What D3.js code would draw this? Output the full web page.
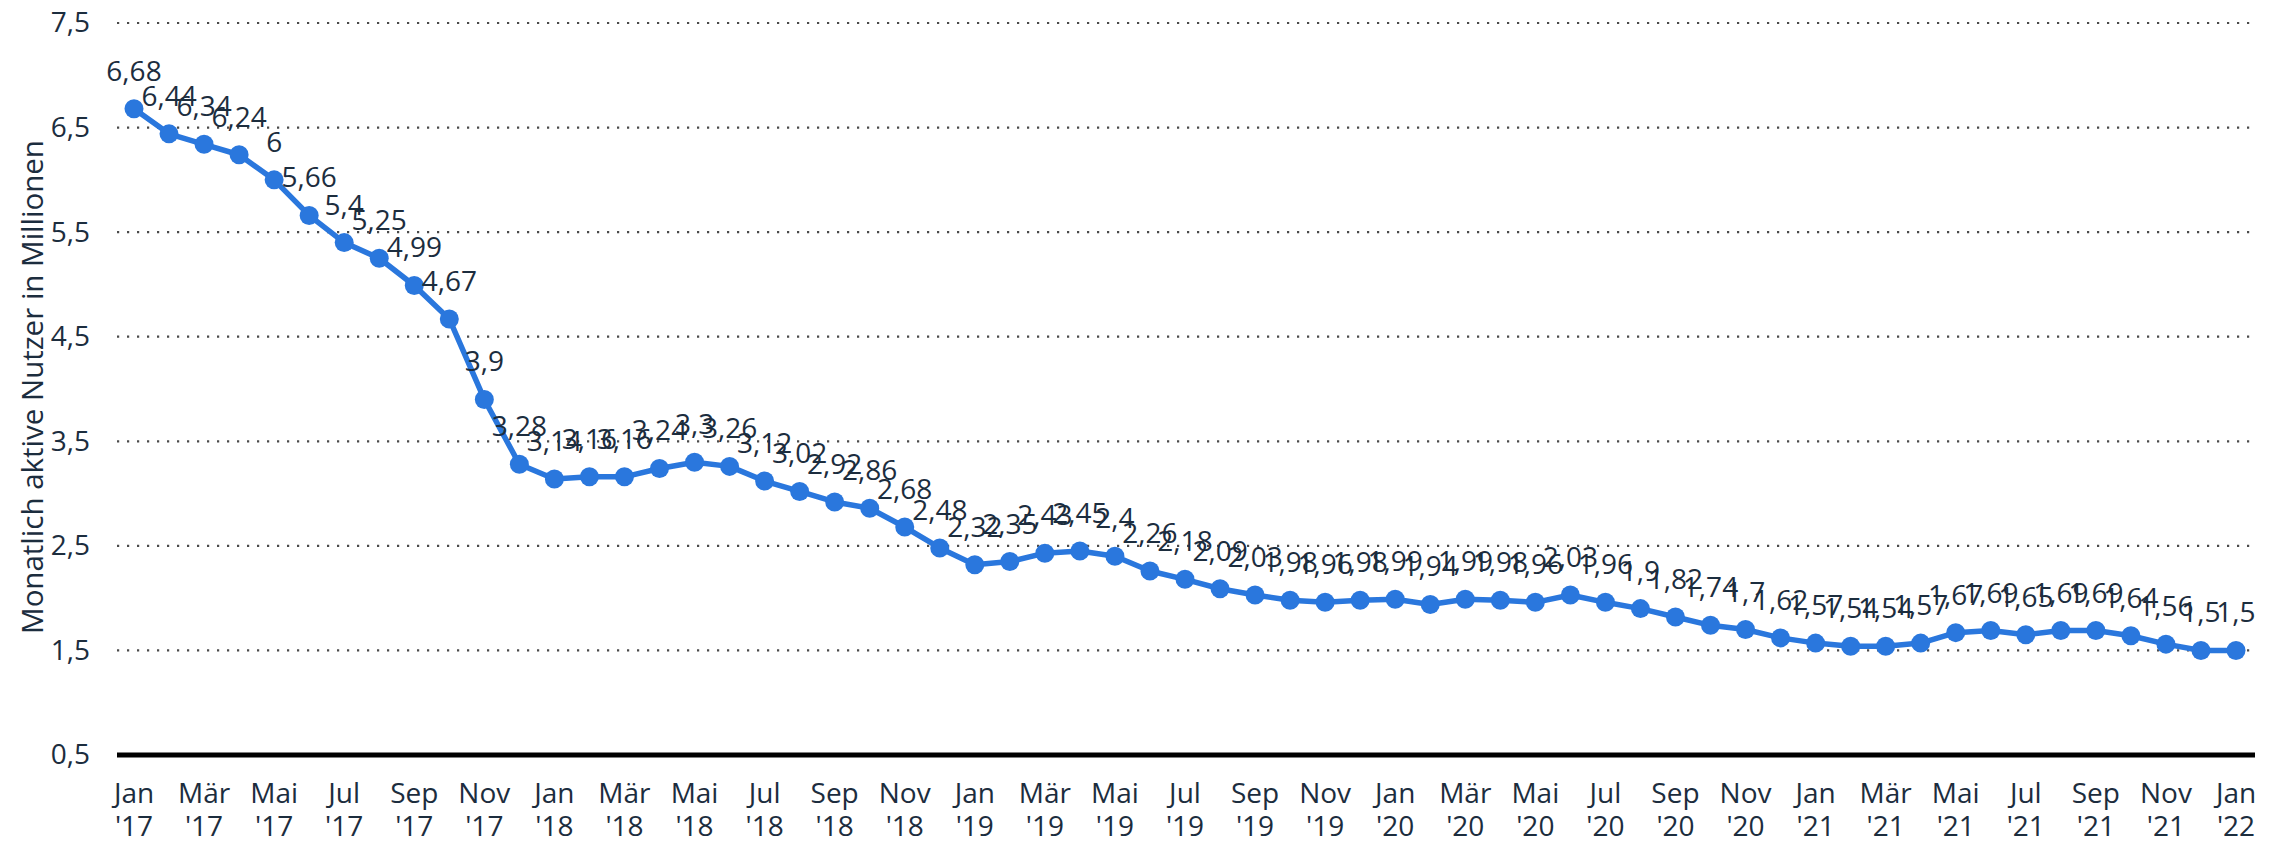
<!DOCTYPE html>
<html>

<head>
    <title>Monatlich aktive Nutzer</title>
    <script src="https://cdnjs.cloudflare.com/ajax/libs/d3/7.8.5/d3.min.js"></script>
    <style>
        body { margin: 0; background: #fff; font-family: "Open Sans", sans-serif; }
    </style>
</head>

<body>
    <div id="chart"></div>

    <script>
        var months = [
            "Jan '17", "Feb '17", "Mär '17", "Apr '17", "Mai '17", "Jun '17", "Jul '17", "Aug '17", "Sep '17", "Okt '17", "Nov '17", "Dez '17",
            "Jan '18", "Feb '18", "Mär '18", "Apr '18", "Mai '18", "Jun '18", "Jul '18", "Aug '18", "Sep '18", "Okt '18", "Nov '18", "Dez '18",
            "Jan '19", "Feb '19", "Mär '19", "Apr '19", "Mai '19", "Jun '19", "Jul '19", "Aug '19", "Sep '19", "Okt '19", "Nov '19", "Dez '19",
            "Jan '20", "Feb '20", "Mär '20", "Apr '20", "Mai '20", "Jun '20", "Jul '20", "Aug '20", "Sep '20", "Okt '20", "Nov '20", "Dez '20",
            "Jan '21", "Feb '21", "Mär '21", "Apr '21", "Mai '21", "Jun '21", "Jul '21", "Aug '21", "Sep '21", "Okt '21", "Nov '21", "Dez '21",
            "Jan '22"
        ];

        var users = [
            6.68, 6.44, 6.34, 6.24, 6, 5.66, 5.4, 5.25, 4.99, 4.67, 3.9, 3.28,
            3.14, 3.16, 3.16, 3.24, 3.3, 3.26, 3.12, 3.02, 2.92, 2.86, 2.68, 2.48,
            2.32, 2.35, 2.43, 2.45, 2.4, 2.26, 2.18, 2.09, 2.03, 1.98, 1.96, 1.98,
            1.99, 1.94, 1.99, 1.98, 1.96, 2.03, 1.96, 1.9, 1.82, 1.74, 1.7, 1.62,
            1.57, 1.54, 1.54, 1.57, 1.67, 1.69, 1.65, 1.69, 1.69, 1.64, 1.56, 1.5,
            1.5
        ];

        var yTicks = [0.5, 1.5, 2.5, 3.5, 4.5, 5.5, 6.5, 7.5];
        var xTickLabels = months.filter(function (m, i) { return i % 2 === 0; });

        var width = 2284;
        var height = 842;
        var textColor = "#1c2d3e";
        var lineColor = "#2a77dd";

        var svg = d3.select("#chart").append("svg")
            .attr("width", width)
            .attr("height", height);

        var xScale = d3.scalePoint().domain(months).range([134, 2236]);
        var yScale = d3.scaleLinear().domain([0.5, 7.5]).range([755, 23]);

        function comma(v) {
            return String(v).replace(".", ",");
        }

        // grid
        svg.append("g")
            .selectAll("line")
            .data(yTicks.filter(function (t) { return t > 0.5; }))
            .enter().append("line")
            .attr("x1", 117)
            .attr("x2", 2255)
            .attr("y1", function (d) { return yScale(d); })
            .attr("y2", function (d) { return yScale(d); })
            .attr("stroke", "#4a4a4a")
            .attr("stroke-width", 2.2)
            .attr("stroke-dasharray", "2.2,7.8");

        // y axis
        var yAxis = svg.append("g")
            .attr("transform", "translate(90,0)")
            .call(d3.axisLeft(yScale).tickValues(yTicks).tickSize(0).tickPadding(0).tickFormat(comma));
        yAxis.select(".domain").remove();
        yAxis.selectAll("text")
            .attr("fill", textColor)
            .style("font-family", "'Open Sans'")
            .style("font-size", "28px");

        // baseline
        svg.append("line")
            .attr("x1", 117)
            .attr("x2", 2255)
            .attr("y1", yScale(0.5))
            .attr("y2", yScale(0.5))
            .attr("stroke", "#000")
            .attr("stroke-width", 5);

        // x labels
        var xl = svg.append("g").selectAll("text")
            .data(xTickLabels)
            .enter().append("text")
            .attr("text-anchor", "middle")
            .attr("fill", textColor)
            .style("font-size", "28px");
        xl.append("tspan")
            .attr("x", function (d) { return xScale(d); })
            .attr("y", 803)
            .text(function (d) { return d.split(" ")[0]; });
        xl.append("tspan")
            .attr("x", function (d) { return xScale(d); })
            .attr("y", 836)
            .text(function (d) { return d.split(" ")[1]; });

        // y title
        svg.append("text")
            .attr("transform", "translate(43,387) rotate(-90)")
            .attr("text-anchor", "middle")
            .attr("fill", textColor)
            .style("font-size", "29.5px")
            .text("Monatlich aktive Nutzer in Millionen");

        // line
        var line = d3.line()
            .x(function (d, i) { return xScale(months[i]); })
            .y(function (d) { return yScale(d); });

        svg.append("path")
            .datum(users)
            .attr("d", line)
            .attr("fill", "none")
            .attr("stroke", lineColor)
            .attr("stroke-width", 5.5)
            .attr("stroke-linejoin", "round");

        svg.append("g").selectAll("circle")
            .data(users)
            .enter().append("circle")
            .attr("cx", function (d, i) { return xScale(months[i]); })
            .attr("cy", function (d) { return yScale(d); })
            .attr("r", 9.5)
            .attr("fill", lineColor);

        // value labels
        svg.append("g").selectAll("text")
            .data(users)
            .enter().append("text")
            .attr("x", function (d, i) { return xScale(months[i]); })
            .attr("y", function (d) { return yScale(d) - 28; })
            .attr("text-anchor", "middle")
            .attr("fill", textColor)
            .style("font-size", "28px")
            .text(comma);
    </script>

</body>

</html>
